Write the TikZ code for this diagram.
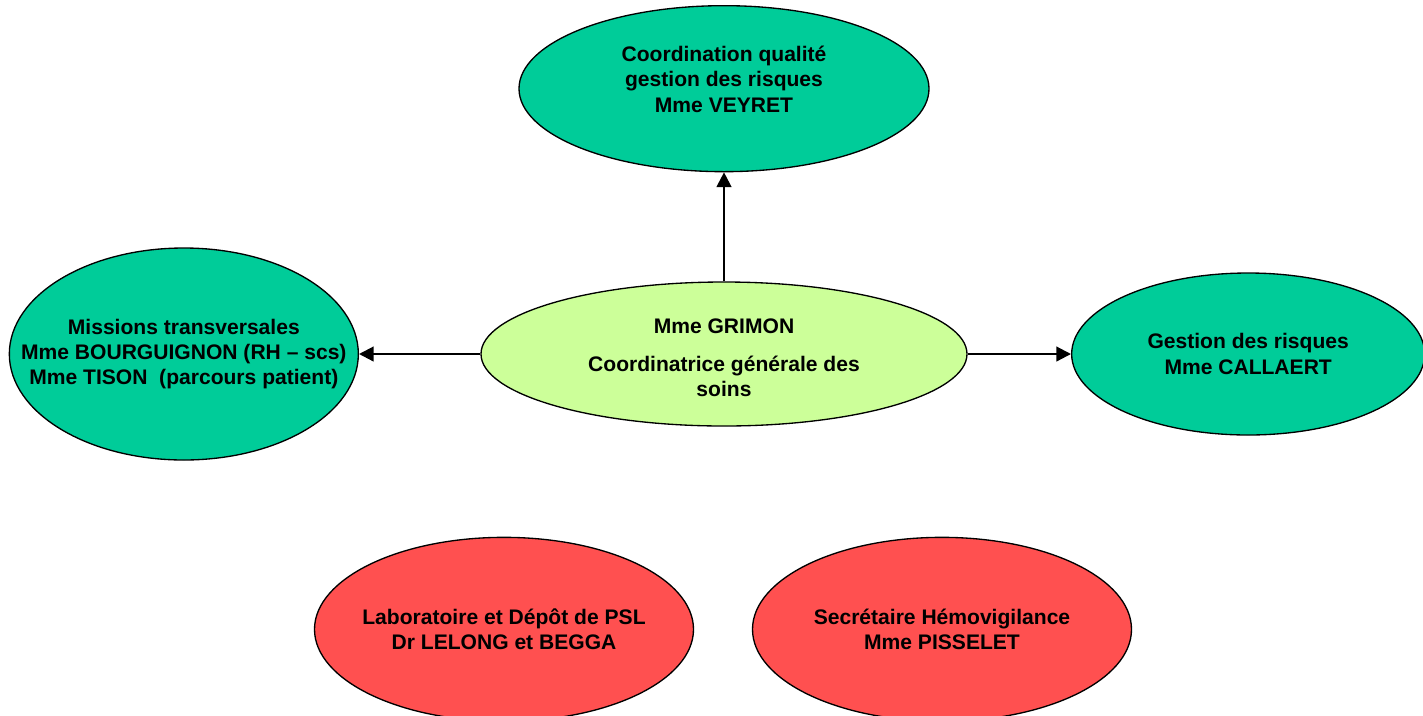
\documentclass[tikz,border=0pt]{standalone}
\usepackage{fontspec}
\setmainfont{Liberation Sans}
\usepackage{xcolor}
\usepackage{tikz}
\usetikzlibrary{positioning,arrows.meta,shapes.geometric}
\definecolor{vertmer}{HTML}{00CC99}
\definecolor{vertpale}{HTML}{CCFF99}
\definecolor{rougeclair}{HTML}{FF5050}

\begin{document}
\begin{tikzpicture}[
  font=\fontsize{15.8}{19}\selectfont\bfseries,
  pole/.style={ellipse,draw,line width=1pt,inner sep=0pt},
  mission/.style={pole,fill=vertmer},
  chef/.style={pole,fill=vertpale},
  hemo/.style={pole,fill=rougeclair,minimum width=284.25pt,minimum height=138pt},
  txt/.style={label={[align=center]center:#1}},
  lien/.style={-{Triangle[length=11pt,width=11pt]},line width=1.6pt},
]
  \useasboundingbox (0,0) rectangle (1067.25pt,-536.25pt);

  \node[chef,minimum width=364.5pt,minimum height=108pt,
    label={[align=center,yshift=-3pt]center:Mme GRIMON\\[9.5pt]Coordinatrice générale des\\soins}] (grimon) at (543pt,-265.5pt) {};
  \node[mission,above=81.75pt of grimon,minimum width=307.5pt,minimum height=124.5pt,
    label={[align=center,yshift=7pt]center:Coordination qualité\\gestion des risques\\Mme VEYRET}] (veyret) {};
  \node[mission,left=91pt of grimon,minimum width=261.75pt,minimum height=159pt,
    txt={Missions transversales\\Mme BOURGUIGNON (RH – scs)\\Mme TISON~ (parcours patient)}] (transv) {};
  \node[mission,right=77.5pt of grimon,minimum width=264.75pt,minimum height=121.5pt,
    txt={Gestion des risques\\Mme CALLAERT}] (callaert) {};

  % hemovigilance, sans liens
  \node[hemo,below=82.5pt of grimon,xshift=-165pt,
    txt={Laboratoire et Dépôt de PSL\\Dr LELONG et BEGGA}] (labo) {};
  \node[hemo,below=82.5pt of grimon,xshift=163.5pt,
    txt={Secrétaire Hémovigilance\\Mme PISSELET}] (secr) {};

  \draw[lien] (grimon) -- (veyret);
  \draw[lien] (grimon) -- (transv);
  \draw[lien] (grimon) -- (callaert);
\end{tikzpicture}
\end{document}
